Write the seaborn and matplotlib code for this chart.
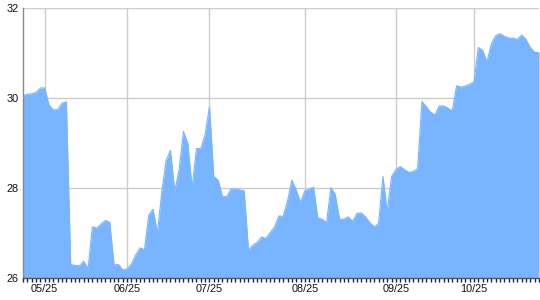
import matplotlib
matplotlib.use("Agg")
import matplotlib.pyplot as plt
import seaborn as sns
import pandas as pd
import numpy as np

# ---- data (one value per trading day) ----
values = [
    30.05, 30.08, 30.09, 30.12, 30.22, 30.22, 29.84, 29.73, 29.74, 29.88,
    29.91, 26.29, 26.27, 26.26, 26.36, 26.20, 27.13, 27.10, 27.19, 27.27,
    27.23, 26.28, 26.29, 26.17, 26.19, 26.30, 26.50, 26.66, 26.62, 27.39,
    27.52, 26.99, 27.90, 28.60, 28.83, 27.92, 28.40, 29.25, 28.99, 28.00,
    28.87, 28.87, 29.18, 29.80, 28.25, 28.17, 27.80, 27.80, 27.97, 27.97,
    27.95, 27.93, 26.61, 26.72, 26.78, 26.90, 26.87, 27.00, 27.12, 27.37,
    27.36, 27.70, 28.17, 27.95, 27.67, 27.93, 27.97, 28.01, 27.32, 27.30,
    27.22, 28.00, 27.85, 27.30, 27.30, 27.35, 27.25, 27.43, 27.44, 27.35,
    27.22, 27.13, 27.20, 28.25, 27.47, 28.25, 28.40, 28.47, 28.40, 28.34,
    28.36, 28.42, 29.92, 29.80, 29.68, 29.62, 29.82, 29.82, 29.77, 29.71,
    30.27, 30.24, 30.26, 30.30, 30.36, 31.12, 31.06, 30.80, 31.20, 31.38,
    31.43, 31.37, 31.33, 31.33, 31.30, 31.40, 31.30, 31.12, 31.01, 31.01,
]
day_index = list(range(len(values)))
tick_positions = [5, 24, 43, 65, 86, 104]
tick_labels = ["05/25", "06/25", "07/25", "08/25", "09/25", "10/25"]
y_ticks = [26, 28, 30, 32]

df = pd.DataFrame({"day": day_index, "price": values})

sns.set_theme(style="white")
plt.rcParams["font.family"] = ["Liberation Sans", "DejaVu Sans"]

fig = plt.figure(figsize=(5.4, 3.0), dpi=100)
ax = fig.add_axes([23 / 540, 1 - 277.5 / 300, 516 / 540, (277.5 - 8) / 300])

fill_color = "#78b4ff"
sns.lineplot(data=df, x="day", y="price", ax=ax, color=fill_color, linewidth=0.8)
ax.fill_between(df["day"], df["price"], 26, color=fill_color, linewidth=0, zorder=2)

ax.set_xlim(0, len(values) - 1)
ax.set_ylim(26, 32)
ax.set_xlabel("")
ax.set_ylabel("")

ax.set_xticks(tick_positions)
ax.set_xticklabels(tick_labels)
ax.set_xticks(day_index, minor=True)
ax.set_yticks(y_ticks)
ax.set_yticklabels([str(v) for v in y_ticks])

ax.grid(True, which="major", axis="both", color="#cccccc", linewidth=1.0)
ax.set_axisbelow(True)

for side in ["top", "right"]:
    ax.spines[side].set_visible(False)
ax.spines["left"].set_color("#888888")
ax.spines["left"].set_linewidth(1.0)
ax.spines["bottom"].set_color("#555555")
ax.spines["bottom"].set_linewidth(1.0)
ax.spines["left"].set_zorder(5)
ax.spines["bottom"].set_zorder(5)

ax.tick_params(axis="x", which="both", direction="out", length=3, width=1,
               color="#222222", labelsize=7.8, labelcolor="#111111", pad=2, bottom=True)
ax.tick_params(axis="y", which="both", length=0, labelsize=7.8, labelcolor="#111111", pad=3, left=False)

fig.savefig("out.png", dpi=100)
